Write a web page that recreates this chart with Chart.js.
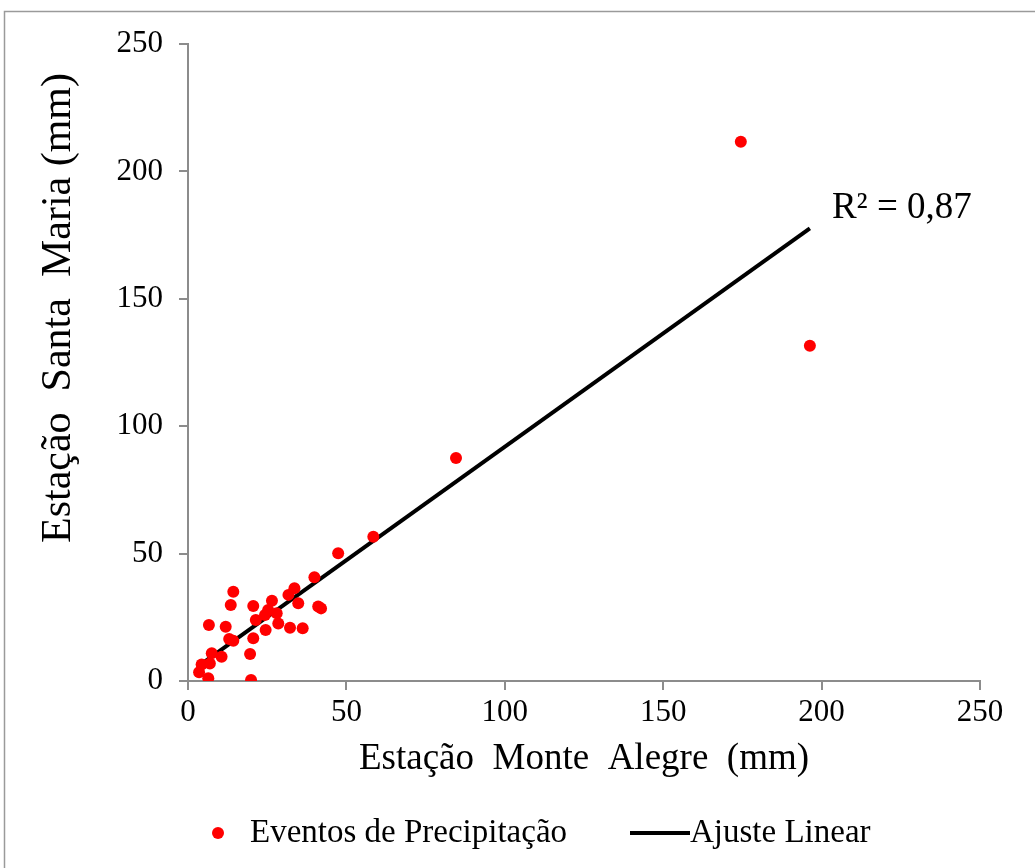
<!DOCTYPE html>
<html>
<head>
<meta charset="utf-8">
<script src="https://cdn.jsdelivr.net/npm/chart.js@4.4.1/dist/chart.umd.min.js"></script>
<style>
    html, body { margin: 0; padding: 0; background: #fff; }
    #wrap { width: 1035px; height: 868px; position: relative; }
</style>
</head>
<body>
<div id="wrap"><canvas id="chart" width="1035" height="868"></canvas></div>
<script>
// Monte Alegre (x) vs Santa Maria (y) rainfall events, mm
const monteAlegre = [14.3, 13.5, 20.6, 26.5, 6.6, 11.9, 21.4, 13.0, 14.3, 20.6,
                     24.5, 19.6, 7.5, 10.6, 6.9, 4.3, 3.5, 6.4, 19.9, 39.9,
                     33.6, 31.7, 34.8, 41.1, 42.0, 25.3, 28.0, 24.3, 28.5, 32.2,
                     36.2, 47.4, 58.5, 84.6, 174.5, 196.3];
const santaMaria  = [35.0, 29.8, 29.4, 31.5, 22.0, 21.3, 23.9, 16.5, 15.8, 16.8,
                     20.0, 10.6, 10.9, 9.5, 6.9, 6.5, 3.4, 1.1, 0.4, 40.7,
                     36.4, 33.8, 30.5, 29.2, 28.5, 27.9, 26.6, 25.9, 22.6, 20.9,
                     20.7, 50.1, 56.6, 87.5, 211.6, 131.6];

// linear fit drawn between its two end points
const fitX = [3.5, 196.3];
const fitY = [6.0, 177.6];
const r2Label = 'R² = 0,87';

const axisTicks = [0, 50, 100, 150, 200, 250];

const serif = "'Liberation Serif', 'Times New Roman', serif";
const axisGray = '#8c8c8c';

const eventPoints = monteAlegre.map((x, i) => ({ x: x, y: santaMaria[i] }));
const fitPoints = fitX.map((x, i) => ({ x: x, y: fitY[i] }));

// Frame, y title, R² text and the legend row under the x title
const decorations = {
    id: 'decorations',
    beforeDraw(chart) {
        const ctx = chart.ctx;
        ctx.save();
        ctx.fillStyle = '#fff';
        ctx.fillRect(0, 0, chart.width, chart.height);
        ctx.strokeStyle = '#9a9a9a';
        ctx.lineWidth = 1.5;
        ctx.strokeRect(4.5, 11.5, chart.width + 10, chart.height + 10);
        ctx.restore();
    },
    afterDraw(chart) {
        const ctx = chart.ctx;
        const xs = chart.scales.x, ys = chart.scales.y;
        ctx.save();
        ctx.fillStyle = '#000';

        // y axis title
        ctx.save();
        ctx.translate(59, 308);
        ctx.rotate(-Math.PI / 2);
        ctx.font = '42px ' + serif;
        ctx.textAlign = 'center';
        ctx.textBaseline = 'middle';
        ctx.fillText('Estação  Santa  Maria (mm)', 0, 0);
        ctx.restore();

        // R² next to the end of the fit line
        const px = xs.getPixelForValue(fitX[1]);
        const py = ys.getPixelForValue(fitY[1]);
        ctx.font = '37px ' + serif;
        ctx.textBaseline = 'alphabetic';
        ctx.fillText(r2Label, px + 22, py - 10);

        // legend
        const ly = 833;
        ctx.font = '33px ' + serif;
        ctx.textBaseline = 'middle';
        ctx.fillStyle = '#ff0000';
        ctx.beginPath();
        ctx.arc(218, ly, 6, 0, Math.PI * 2);
        ctx.fill();
        ctx.fillStyle = '#000';
        ctx.fillText(chart.data.datasets[0].label, 250, ly);
        ctx.strokeStyle = '#000';
        ctx.lineWidth = 4;
        ctx.beginPath();
        ctx.moveTo(630, ly);
        ctx.lineTo(690, ly);
        ctx.stroke();
        ctx.fillText(chart.data.datasets[1].label, 690, ly);
        ctx.restore();
    }
};

new Chart(document.getElementById('chart'), {
    type: 'scatter',
    data: {
        datasets: [
            {
                label: 'Eventos de Precipitação',
                data: eventPoints,
                backgroundColor: '#ff0000',
                borderColor: '#ff0000',
                pointRadius: 6,
                pointHoverRadius: 6,
                borderWidth: 0
            },
            {
                type: 'line',
                label: 'Ajuste Linear',
                data: fitPoints,
                borderColor: '#000',
                backgroundColor: '#000',
                borderWidth: 4,
                pointRadius: 0,
                fill: false
            }
        ]
    },
    options: {
        responsive: false,
        animation: false,
        layout: { padding: { left: 0, top: 44, right: 55, bottom: 87 } },
        plugins: {
            tooltip: { enabled: false },
            legend: { display: false }
        },
        scales: {
            x: {
                type: 'linear',
                min: 0,
                max: 250,
                afterBuildTicks(scale) { scale.ticks = axisTicks.map(v => ({ value: v })); },
                afterFit(scale) { scale.height = 100; },
                border: { color: axisGray, width: 2 },
                grid: { drawOnChartArea: false, drawTicks: true, tickLength: 9, color: axisGray, lineWidth: 2 },
                ticks: { color: '#000', font: { family: serif, size: 31 }, padding: 4, maxRotation: 0 },
                title: {
                    display: true,
                    text: 'Estação  Monte  Alegre  (mm)',
                    color: '#000',
                    font: { family: serif, size: 37 },
                    padding: { top: 0, bottom: 0 }
                }
            },
            y: {
                type: 'linear',
                min: 0,
                max: 250,
                afterBuildTicks(scale) { scale.ticks = axisTicks.map(v => ({ value: v })); },
                afterFit(scale) { scale.width = 188; },
                border: { color: axisGray, width: 2 },
                grid: { drawOnChartArea: false, drawTicks: true, tickLength: 9, color: axisGray, lineWidth: 2 },
                ticks: { color: '#000', font: { family: serif, size: 31 }, padding: 16 }
            }
        }
    },
    plugins: [decorations]
});
</script>
</body>
</html>
